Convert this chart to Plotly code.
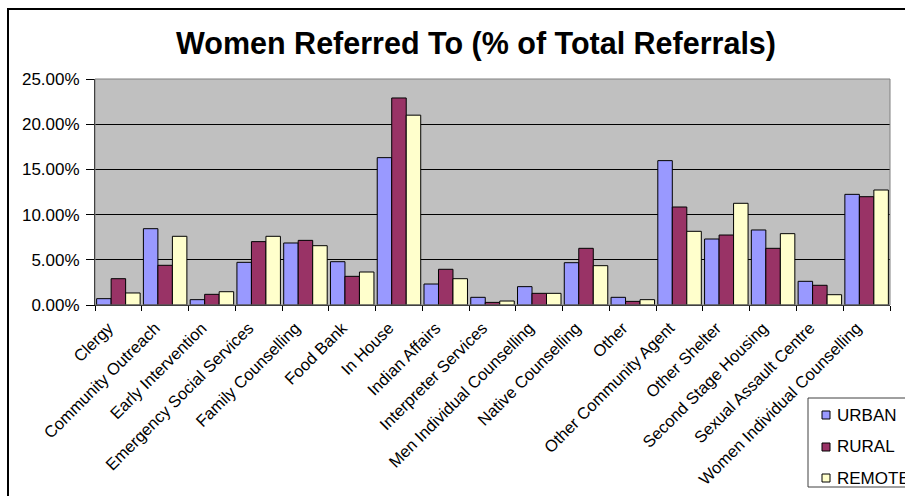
import plotly.graph_objects as go

categories = ["Clergy", "Community Outreach", "Early Intervention", "Emergency Social Services",
              "Family Counselling", "Food Bank", "In House", "Indian Affairs", "Interpreter Services",
              "Men Individual Counselling", "Native Counselling", "Other", "Other Community Agent",
              "Other Shelter", "Second Stage Housing", "Sexual Assault Centre",
              "Women Individual Counselling"]

urban = [0.70, 8.44, 0.59, 4.72, 6.86, 4.79, 16.30, 2.32, 0.85, 2.03, 4.68, 0.85, 15.97, 7.30, 8.30, 2.62, 12.24]
rural = [2.91, 4.39, 1.18, 7.01, 7.15, 3.17, 22.90, 3.95, 0.29, 1.29, 6.27, 0.40, 10.84, 7.74, 6.27, 2.18, 11.98]
remote = [1.33, 7.60, 1.47, 7.60, 6.56, 3.65, 21.00, 2.91, 0.44, 1.29, 4.35, 0.59, 8.15, 11.25, 7.89, 1.14, 12.72]

series_names = ["URBAN", "RURAL", "REMOTE"]
series_colors = ["#9999FF", "#993366", "#FFFFCC"]
y_ticks = [0, 5, 10, 15, 20, 25]

FONT = "Liberation Sans, Arial, sans-serif"

# plot-area geometry (pixels) used to place the legend box in paper coordinates
L, R, T, B = 95, 890, 79, 305
def px(x):
    return (x - L) / (R - L)
def py(y):
    return (B - y) / (B - T)

fig = go.Figure()
for name, vals, col in zip(series_names, [urban, rural, remote], series_colors):
    fig.add_trace(go.Bar(
        x=categories, y=vals, name=name,
        marker=dict(color=col, line=dict(color="black", width=1)),
    ))

shapes = [
    dict(type="rect", xref="paper", yref="paper", x0=0, x1=1, y0=0, y1=1,
         line=dict(color="#808080", width=1), fillcolor="rgba(0,0,0,0)", layer="above"),
    dict(type="rect", xref="paper", yref="paper", x0=px(8), x1=px(1000), y0=py(700), y1=py(9),
         line=dict(color="black", width=2), fillcolor="rgba(0,0,0,0)", layer="above"),
    # legend box
    dict(type="rect", xref="paper", yref="paper", x0=px(808), x1=px(1000), y0=py(487), y1=py(398),
         line=dict(color="#404040", width=1), fillcolor="white", layer="above"),
]
annotations = []
legend_centers = [415, 447, 478]
for name, col, cy in zip(series_names, series_colors, legend_centers):
    shapes.append(dict(type="rect", xref="paper", yref="paper",
                       x0=px(822), x1=px(830), y0=py(cy + 4), y1=py(cy - 4),
                       line=dict(color="black", width=1), fillcolor=col, layer="above"))
    annotations.append(dict(text=name, xref="paper", yref="paper", x=px(835), y=py(cy),
                            xanchor="left", yanchor="middle", showarrow=False,
                            font=dict(family=FONT, size=17, color="black")))

fig.update_layout(
    width=905, height=496,
    barmode="group", bargap=0.07, bargroupgap=0,
    plot_bgcolor="#C0C0C0", paper_bgcolor="white",
    margin=dict(l=L, r=905 - R, t=T, b=496 - B, autoexpand=False),
    font=dict(family=FONT, size=17, color="black"),
    title=dict(text="<b>Women Referred To (% of Total Referrals)</b>",
               x=0.526, xref="container", xanchor="center",
               y=0.913, yref="container", yanchor="middle",
               font=dict(family=FONT, size=30.5, color="black")),
    xaxis=dict(
        tickangle=-45, tickson="boundaries", ticks="outside", ticklen=5,
        tickcolor="black", showline=True, linecolor="black", linewidth=1,
        tickfont=dict(family=FONT, size=16.5), showgrid=False,
        ticklabelstandoff=6, ticklabelshift=-10,
    ),
    yaxis=dict(
        range=[0, 25], tickvals=y_ticks,
        ticktext=[f"{v:.2f}%" for v in y_ticks],
        ticks="outside", ticklen=8, tickcolor="black",
        showline=True, linecolor="black", linewidth=1,
        showgrid=True, gridcolor="black", gridwidth=1,
        zeroline=False, tickfont=dict(family=FONT, size=17),
        ticklabelstandoff=3,
    ),
    showlegend=False,
    shapes=shapes,
    annotations=annotations,
)

fig.write_html("out.html", config={"displayModeBar": False},
               post_script="document.body.style.margin='0';")
